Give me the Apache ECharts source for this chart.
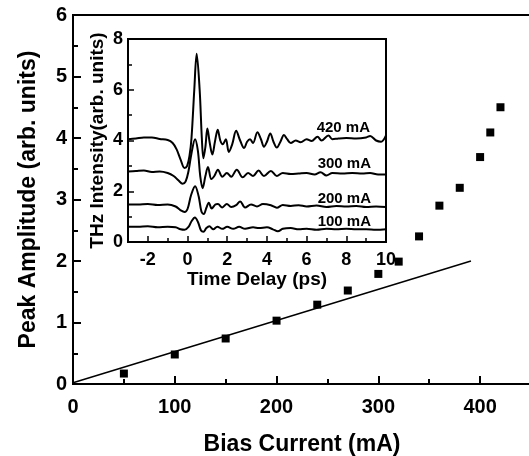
<!DOCTYPE html>
<html>
<head>
<meta charset="utf-8">
<script src="https://cdn.jsdelivr.net/npm/echarts@6/dist/echarts.min.js"></script>
<style>
html,body{margin:0;padding:0;background:#fff;}
#chart{width:529px;height:456px;}
</style>
</head>
<body>
<div id="chart"></div>
<script>
// ---- Main plot data ----
var biasCurrent = [50, 100, 150, 200, 240, 270, 300, 320, 340, 360, 380, 400, 410, 420];
var peakAmplitude = [0.17, 0.48, 0.74, 1.03, 1.29, 1.52, 1.79, 1.99, 2.40, 2.90, 3.19, 3.69, 4.09, 4.50];
var fitX = [0, 391];
var fitY = [0.02, 2.0];
var mainXTicks = [0, 100, 200, 300, 400];
var mainXMinor = [50, 150, 250, 350];

// ---- Inset data (THz waveforms) ----
var t420 = [-3.0,-2.6,-2.2,-1.8,-1.4,-1.0,-0.75,-0.55,-0.35,-0.15,-0.02,0.1,0.2,0.34,0.46,0.61,0.72,0.8,0.9,1.0,1.12,1.25,1.38,1.52,1.65,1.77,1.93,2.08,2.25,2.45,2.65,2.85,3.0,3.15,3.3,3.52,3.7,3.85,4.0,4.17,4.33,4.5,4.68,4.86,5.02,5.2,5.45,5.7,6.0,6.25,6.55,6.75,7.1,7.3,7.6,8.0,8.5,9.0,9.2,9.5,9.75,10.0];
var v420 = [4.05,4.08,4.12,4.12,4.06,4.02,3.9,3.65,3.25,2.92,3.0,3.4,4.1,6.0,7.42,6.0,4.1,3.3,3.75,4.47,3.9,3.45,3.95,4.42,4.0,3.85,4.05,3.55,3.85,4.38,4.0,3.7,3.95,4.05,3.9,4.33,4.05,3.75,3.95,4.28,3.95,3.72,3.95,4.22,4.05,3.9,4.0,3.93,4.05,3.98,4.15,4.0,4.2,4.05,4.08,4.1,4.08,4.12,4.18,4.0,3.95,4.2];
var t300 = [-3.0,-2.6,-2.2,-1.8,-1.4,-1.0,-0.7,-0.45,-0.25,-0.1,0.05,0.2,0.38,0.52,0.64,0.76,0.9,1.03,1.2,1.35,1.53,1.75,1.98,2.2,2.48,2.78,3.05,3.3,3.58,3.85,4.2,4.5,4.8,5.2,5.6,6.0,6.4,6.7,7.0,7.3,7.8,8.3,8.8,9.2,9.6,10.0];
var v300 = [2.78,2.8,2.82,2.76,2.78,2.72,2.6,2.42,2.3,2.38,2.8,3.5,4.05,3.6,2.6,2.12,2.6,2.96,2.48,2.6,2.85,2.57,2.72,2.57,2.85,2.55,2.72,2.6,2.82,2.6,2.8,2.6,2.72,2.68,2.7,2.72,2.66,2.75,2.62,2.72,2.7,2.72,2.7,2.72,2.66,2.66];
var t200 = [-3.0,-2.5,-2.0,-1.5,-1.0,-0.6,-0.35,-0.15,0.0,0.18,0.38,0.56,0.7,0.82,0.95,1.07,1.22,1.4,1.53,1.75,1.98,2.2,2.45,2.65,2.9,3.2,3.5,3.8,4.2,4.5,4.8,5.2,5.6,6.0,6.5,7.0,7.5,8.0,8.5,9.0,9.5,10.0];
var v200 = [1.48,1.48,1.5,1.46,1.48,1.4,1.25,1.18,1.3,1.85,2.2,1.8,1.2,1.1,1.35,1.55,1.32,1.48,1.5,1.36,1.5,1.38,1.45,1.6,1.36,1.48,1.4,1.5,1.45,1.35,1.46,1.42,1.45,1.4,1.44,1.38,1.42,1.4,1.42,1.38,1.4,1.38];
var t100 = [-3.0,-2.5,-2.0,-1.5,-1.0,-0.6,-0.35,-0.15,0.05,0.2,0.37,0.53,0.68,0.8,0.95,1.1,1.3,1.5,1.75,2.0,2.3,2.6,2.9,3.3,3.6,4.0,4.3,4.55,4.8,5.2,5.6,6.0,6.5,7.0,7.5,8.0,8.5,9.0,9.5,10.0];
var v100 = [0.6,0.6,0.62,0.58,0.6,0.58,0.5,0.48,0.6,0.82,0.97,0.78,0.45,0.4,0.55,0.62,0.5,0.6,0.52,0.6,0.52,0.6,0.52,0.58,0.55,0.58,0.5,0.42,0.52,0.55,0.5,0.52,0.48,0.52,0.5,0.52,0.5,0.5,0.48,0.5];
var curveNames = ['420 mA', '300 mA', '200 mA', '100 mA'];
var nameT = [7.85, 7.9, 7.9, 7.9];
var nameV = [4.49, 3.07, 1.71, 0.79];
var insetXTicks = [-2, 0, 2, 4, 6, 8, 10];
var insetXMinor = [-3, -1, 1, 3, 5, 7, 9];

function pairs(xs, ys) { return xs.map(function (x, i) { return [x, ys[i]]; }); }

var FONT = '"Liberation Sans", Arial, sans-serif';
var chart = echarts.init(document.getElementById('chart'), null, {renderer: 'canvas'});

function curve(name, xs, ys) {
  return {
    name: name, type: 'line', xAxisIndex: 1, yAxisIndex: 1,
    data: pairs(xs, ys), showSymbol: false, symbol: 'none',
    smooth: 0.35, lineStyle: {color: '#000', width: 2}, z: 5, silent: true
  };
}

var option = {
  backgroundColor: '#fff',
  animation: false,
  grid: [
    {left: 73, top: 15, width: 458, height: 369, show: true, borderColor: '#000', borderWidth: 2, backgroundColor: 'transparent', outerBoundsMode: 'none', containLabel: false},
    {left: 128, top: 39, width: 258, height: 203, show: true, borderColor: '#000', borderWidth: 2, backgroundColor: '#fff', outerBoundsMode: 'none', containLabel: false}
  ],
  xAxis: [
    {
      gridIndex: 0, type: 'value', min: 0, max: 450, position: 'bottom',
      name: 'Bias Current (mA)', nameLocation: 'middle', nameGap: 49,
      nameTextStyle: {fontFamily: FONT, fontWeight: 'bold', fontSize: 23, color: '#000'},
      axisLine: {show: true, onZero: false, lineStyle: {color: '#000', width: 2}},
      axisTick: {show: true, inside: true, length: 8, lineStyle: {color: '#000', width: 2}, customValues: mainXTicks},
      axisLabel: {fontFamily: FONT, fontWeight: 'bold', fontSize: 20, color: '#000', margin: 13, customValues: mainXTicks},
      splitLine: {show: false}
    },
    {
      gridIndex: 1, type: 'value', min: -3, max: 10, position: 'bottom',
      name: 'Time Delay (ps)', nameLocation: 'middle', nameGap: 27,
      nameTextStyle: {fontFamily: FONT, fontWeight: 'bold', fontSize: 19, color: '#000'},
      axisLine: {show: true, onZero: false, lineStyle: {color: '#000', width: 2}},
      axisTick: {show: true, inside: true, length: 6, lineStyle: {color: '#000', width: 1.5}, customValues: insetXTicks},
      axisLabel: {fontFamily: FONT, fontWeight: 'bold', fontSize: 18, color: '#000', margin: 9, customValues: insetXTicks},
      splitLine: {show: false}
    },
    {
      gridIndex: 1, type: 'value', min: -3, max: 10, position: 'bottom',
      axisLine: {show: false, onZero: false},
      axisTick: {show: true, inside: true, length: 4, lineStyle: {color: '#000', width: 1.5}, customValues: insetXMinor},
      axisLabel: {show: false},
      splitLine: {show: false}
    },
    {
      gridIndex: 0, type: 'value', min: 0, max: 450, position: 'bottom',
      axisLine: {show: false, onZero: false},
      axisTick: {show: true, inside: true, length: 5, lineStyle: {color: '#000', width: 2}, customValues: mainXMinor},
      axisLabel: {show: false},
      splitLine: {show: false}
    }
  ],
  yAxis: [
    {
      gridIndex: 0, type: 'value', min: 0, max: 6, interval: 1, position: 'left',
      name: 'Peak Amplitude (arb. units)', nameLocation: 'middle', nameGap: 33,
      nameTextStyle: {fontFamily: FONT, fontWeight: 'bold', fontSize: 23, color: '#000'},
      axisLine: {show: true, onZero: false, lineStyle: {color: '#000', width: 2}},
      axisTick: {show: true, inside: true, length: 8, lineStyle: {color: '#000', width: 2}},
      minorTick: {show: true, splitNumber: 2, length: 5, lineStyle: {color: '#000', width: 2}},
      axisLabel: {fontFamily: FONT, fontWeight: 'bold', fontSize: 20, color: '#000', margin: 6},
      splitLine: {show: false}, minorSplitLine: {show: false}
    },
    {
      gridIndex: 1, type: 'value', min: 0, max: 8, interval: 2, position: 'left',
      name: 'THz Intensity(arb. units)', nameLocation: 'middle', nameGap: 21,
      nameTextStyle: {fontFamily: FONT, fontWeight: 'bold', fontSize: 19, color: '#000'},
      axisLine: {show: true, onZero: false, lineStyle: {color: '#000', width: 2}},
      axisTick: {show: true, inside: true, length: 6, lineStyle: {color: '#000', width: 1.5}},
      minorTick: {show: true, splitNumber: 2, length: 4, lineStyle: {color: '#000', width: 1.5}},
      axisLabel: {fontFamily: FONT, fontWeight: 'bold', fontSize: 18, color: '#000', margin: 5},
      splitLine: {show: false}, minorSplitLine: {show: false}
    }
  ],
  series: [
    {
      name: 'fit', type: 'line', xAxisIndex: 0, yAxisIndex: 0,
      data: pairs(fitX, fitY), showSymbol: false, symbol: 'none',
      lineStyle: {color: '#000', width: 1.5}, silent: true
    },
    {
      name: 'peak', type: 'scatter', xAxisIndex: 0, yAxisIndex: 0,
      data: pairs(biasCurrent, peakAmplitude), symbol: 'rect', symbolSize: 8,
      itemStyle: {color: '#000', opacity: 1}, silent: true
    },
    curve('420 mA', t420, v420),
    curve('300 mA', t300, v300),
    curve('200 mA', t200, v200),
    curve('100 mA', t100, v100),
    {
      name: 'labels', type: 'scatter', xAxisIndex: 1, yAxisIndex: 1,
      data: nameT.map(function (t, i) { return {value: [t, nameV[i]], name: curveNames[i]}; }),
      symbolSize: 1, silent: true, z: 6,
      itemStyle: {opacity: 0},
      label: {show: true, position: 'inside', formatter: '{b}', fontFamily: FONT, fontWeight: 'bold', fontSize: 15, color: '#000', opacity: 1}
    }
  ]
};
chart.setOption(option);
</script>
</body>
</html>
